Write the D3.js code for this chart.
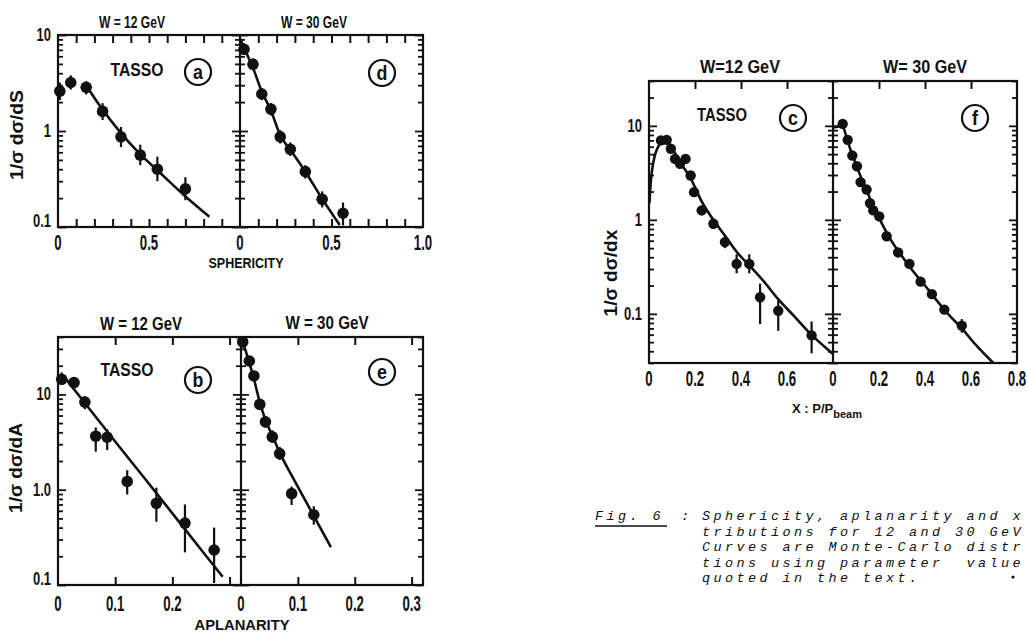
<!DOCTYPE html>
<html><head><meta charset="utf-8">
<script src="https://cdn.jsdelivr.net/npm/d3@7"></script>
<style>
body{margin:0;background:#fff;}
svg{display:block;background:#fff;}
.cond{font-family:"Liberation Sans",Arial,"DejaVu Sans",sans-serif;font-weight:bold;fill:#111;}
.cap{font-family:"Liberation Mono","Courier New","DejaVu Sans Mono",monospace;font-style:italic;font-size:13.5px;letter-spacing:3.4px;fill:#111;}
</style></head><body>
<svg id="chart" width="1027" height="634"></svg>
<script>
// ---------------- DATA ----------------
// (a) sphericity, W = 12 GeV
const sph12X  = [0.01, 0.07, 0.155, 0.245, 0.346, 0.452, 0.546, 0.70];
const sph12Y  = [2.6, 3.2, 2.85, 1.6, 0.87, 0.56, 0.40, 0.25];
const sph12Lo = [2.1, 2.7, 2.4, 1.3, 0.68, 0.44, 0.30, 0.19];
const sph12Hi = [3.2, 3.8, 3.3, 1.95, 1.1, 0.72, 0.54, 0.33];
const sph12CurveX = [0.154, 0.231, 0.346, 0.447, 0.546, 0.702, 0.832];
const sph12CurveY = [3.0, 1.82, 0.95, 0.585, 0.39, 0.207, 0.128];
// (d) sphericity, W = 30 GeV
const sph30X  = [0.022, 0.071, 0.119, 0.169, 0.22, 0.275, 0.357, 0.449, 0.563];
const sph30Y  = [7.1, 4.95, 2.43, 1.69, 0.87, 0.645, 0.377, 0.194, 0.139];
const sph30Lo = [6.2, 4.3, 2.1, 1.45, 0.74, 0.55, 0.32, 0.16, 0.104];
const sph30Hi = [8.2, 5.7, 2.8, 1.95, 1.02, 0.76, 0.44, 0.235, 0.18];
const sph30CurveX = [0, 0.03, 0.07, 0.12, 0.17, 0.22, 0.28, 0.36, 0.45, 0.545];
const sph30CurveY = [9.2, 6.8, 4.6, 2.55, 1.62, 0.9, 0.62, 0.37, 0.195, 0.105];
// (b) aplanarity, W = 12 GeV
const apl12X  = [0.0064, 0.028, 0.047, 0.066, 0.086, 0.121, 0.172, 0.222, 0.273];
const apl12Y  = [14.4, 13.3, 8.3, 3.64, 3.55, 1.22, 0.72, 0.446, 0.233];
const apl12Lo = [13, 12.2, 7, 2.5, 2.6, 0.89, 0.46, 0.22, 0.105];
const apl12Hi = [17, 14.5, 9.6, 4.5, 4.3, 1.6, 1.05, 0.7, 0.40];
const apl12CurveX = [0.012, 0.05, 0.1, 0.15, 0.2, 0.25, 0.288];
const apl12CurveY = [15, 7.7, 3.2, 1.35, 0.565, 0.236, 0.122];
// (e) aplanarity, W = 30 GeV
const apl30X  = [0.003, 0.0146, 0.0227, 0.033, 0.043, 0.055, 0.068, 0.089, 0.128];
const apl30Y  = [35.5, 22.4, 15.6, 7.85, 5.15, 3.58, 2.39, 0.91, 0.546];
const apl30Lo = [31, 20, 14, 6.9, 4.5, 3.1, 2.05, 0.69, 0.43];
const apl30Hi = [40, 25, 17.5, 9.0, 5.9, 4.2, 2.8, 1.08, 0.67];
const apl30CurveX = [0.001, 0.0146, 0.0227, 0.033, 0.043, 0.055, 0.068, 0.09, 0.12, 0.158];
const apl30CurveY = [39, 21.5, 14.5, 8.3, 5.4, 3.7, 2.45, 1.38, 0.65, 0.249];
// (c) x = p/p_beam, W = 12 GeV
const xp12X  = [0.052, 0.077, 0.095, 0.113, 0.135, 0.159, 0.181, 0.196, 0.229, 0.28, 0.33, 0.381, 0.436, 0.483, 0.562, 0.707];
const xp12Y  = [7.0, 7.1, 5.7, 4.45, 3.95, 4.45, 2.96, 1.97, 1.26, 0.91, 0.58, 0.34, 0.34, 0.15, 0.108, 0.059];
const xp12Lo = [6.4, 6.5, 5.2, 4.0, 3.6, 4.0, 2.7, 1.8, 1.12, 0.8, 0.5, 0.27, 0.27, 0.078, 0.066, 0.038];
const xp12Hi = [7.6, 7.7, 6.2, 4.9, 4.35, 4.9, 3.25, 2.15, 1.42, 1.03, 0.67, 0.43, 0.43, 0.21, 0.14, 0.083];
const xp12CurveX = [0.002, 0.008, 0.015, 0.025, 0.04, 0.055, 0.07, 0.1, 0.135, 0.18, 0.23, 0.28, 0.33, 0.38, 0.44, 0.5, 0.56, 0.63, 0.7, 0.8];
const xp12CurveY = [1.5, 2.6, 3.6, 4.8, 6.0, 6.9, 7.2, 5.8, 4.1, 2.8, 1.55, 1.0, 0.68, 0.46, 0.32, 0.22, 0.145, 0.095, 0.062, 0.0375];
// (f) x = p/p_beam, W = 30 GeV
const xp30X  = [0.042, 0.064, 0.084, 0.104, 0.12, 0.146, 0.161, 0.175, 0.201, 0.233, 0.283, 0.332, 0.381, 0.43, 0.484, 0.56];
const xp30Y  = [10.5, 7.1, 4.83, 3.72, 2.52, 2.1, 1.5, 1.26, 1.09, 0.67, 0.45, 0.34, 0.22, 0.162, 0.111, 0.075];
const xp30Lo = [9.6, 6.5, 4.4, 3.4, 2.3, 1.9, 1.37, 1.15, 0.99, 0.61, 0.41, 0.31, 0.2, 0.147, 0.1, 0.063];
const xp30Hi = [11.5, 7.8, 5.3, 4.1, 2.75, 2.3, 1.65, 1.38, 1.2, 0.74, 0.5, 0.37, 0.24, 0.178, 0.122, 0.088];
const xp30CurveX = [0.002, 0.04, 0.06, 0.08, 0.1, 0.12, 0.15, 0.175, 0.2, 0.25, 0.3, 0.35, 0.4, 0.45, 0.5, 0.56, 0.62, 0.697];
const xp30CurveY = [9.6, 10.0, 7.4, 5.2, 3.9, 2.9, 1.95, 1.4, 1.05, 0.62, 0.41, 0.28, 0.2, 0.14, 0.1, 0.07, 0.047, 0.03];

// tick labels
const sphXTicks12 = [0, 0.5],      sphXLabels12 = ["0", "0.5"];
const sphXTicks30 = [0, 0.5, 1.0], sphXLabels30 = ["0", "0.5", "1.0"];
const aplXTicks12 = [0, 0.1, 0.2], aplXLabels12 = ["0", "0.1", "0.2"];
const aplXTicks30 = [0, 0.1, 0.2, 0.3], aplXLabels30 = ["0", "0.1", "0.2", "0.3"];
const xpXTicks12 = [0, 0.2, 0.4, 0.6], xpXLabels12 = ["0", "0.2", "0.4", "0.6"];
const xpXTicks30 = [0, 0.2, 0.4, 0.6, 0.8], xpXLabels30 = ["0", "0.2", "0.4", "0.6", "0.8"];
const sphYTicks = [0.1, 1, 10], sphYLabels = ["0.1", "1", "10"];
const aplYTicks = [0.1, 1, 10], aplYLabels = ["0.1", "1.0", "10"];
const xpYTicks = [0.1, 1, 10],  xpYLabels = ["0.1", "1", "10"];
const sphMinorX = [0.1,0.2,0.3,0.4,0.5,0.6,0.7,0.8,0.9];
const aplMinorX = [0.1,0.2,0.3];
const xpMinorX = [0.2,0.4,0.6];

const captionLines = [
  "Sphericity, aplanarity and x",
  "tributions for 12 and 30 GeV",
  "Curves are Monte-Carlo distr",
  "tions using parameter  value",
  "quoted in the text."
];

// ---------------- DRAWING ----------------
const svg = d3.select("#chart");
const INK = "#111";

function txt(g, x, y, s, o) {
  let tr = `translate(${x},${y})`;
  if (o.rot) tr += ` rotate(${o.rot})`;
  if (o.sx) tr += ` scale(${o.sx},1)`;
  const t = g.append("text").attr("class", "cond").attr("transform", tr)
    .attr("text-anchor", o.anchor || "middle").attr("font-size", o.size).text(s);
  if (o.len) t.attr("textLength", o.len).attr("lengthAdjust", "spacingAndGlyphs");
  return t;
}

function makePanel(p) {
  p.x = d3.scaleLinear().domain(p.xd).range([p.x0, p.x1]);
  p.y = d3.scaleLog().domain(p.yd).range([p.y1, p.y0]);
  return p;
}

function yTicks(p, xpos, side) {
  const all = p.y.ticks();
  const isMajor = v => Math.abs(Math.log10(v) - Math.round(Math.log10(v))) < 1e-6;
  const major = all.filter(isMajor), minor = all.filter(v => !isMajor(v));
  const draw = (gen) => {
    [[minor, 5], [major, 8]].forEach(([vals, len]) => {
      const g = svg.append("g").attr("transform", `translate(${xpos},0)`)
        .call(gen(p.y).tickValues(vals).tickSize(len).tickFormat(""));
      g.select(".domain").remove();
      g.selectAll("line").attr("stroke", INK).attr("stroke-width", 1.8);
    });
  };
  if (side === "right" || side === "both") draw(d3.axisRight);
  if (side === "left" || side === "both") draw(d3.axisLeft);
}

function xTicks(p, vals, bottom) {
  const gt = svg.append("g").attr("transform", `translate(0,${p.y0})`)
    .call(d3.axisBottom(p.x).tickValues(vals).tickSize(8).tickFormat(""));
  gt.select(".domain").remove();
  gt.selectAll("line").attr("stroke", INK).attr("stroke-width", 2);
  if (bottom) {
    const gb = svg.append("g").attr("transform", `translate(0,${p.y1})`)
      .call(d3.axisTop(p.x).tickValues(vals).tickSize(8).tickFormat(""));
    gb.select(".domain").remove();
    gb.selectAll("line").attr("stroke", INK).attr("stroke-width", 2);
  }
}

function frame(pl, pr) {
  svg.append("rect").attr("x", pl.x0).attr("y", pl.y0)
    .attr("width", pr.x1 - pl.x0).attr("height", pl.y1 - pl.y0)
    .attr("fill", "none").attr("stroke", INK).attr("stroke-width", 2.2);
  svg.append("line").attr("x1", pl.x1).attr("x2", pl.x1).attr("y1", pl.y0).attr("y2", pl.y1)
    .attr("stroke", INK).attr("stroke-width", 2.2);
}

function data(p, X, Y, Lo, Hi, CX, CY, r) {
  const g = svg.append("g");
  const line = d3.line().x(d => p.x(d[0])).y(d => p.y(d[1])).curve(d3.curveMonotoneX);
  g.append("path").attr("d", line(CX.map((v, i) => [v, CY[i]])))
    .attr("fill", "none").attr("stroke", INK).attr("stroke-width", 2.6);
  X.forEach((v, i) => {
    g.append("line").attr("x1", p.x(v)).attr("x2", p.x(v))
      .attr("y1", p.y(Lo[i])).attr("y2", p.y(Hi[i]))
      .attr("stroke", INK).attr("stroke-width", 2.2);
    g.append("circle").attr("cx", p.x(v)).attr("cy", p.y(Y[i])).attr("r", r).attr("fill", INK);
  });
}

function circled(x, y, ch) {
  svg.append("circle").attr("cx", x).attr("cy", y).attr("r", 13)
    .attr("fill", "none").attr("stroke", INK).attr("stroke-width", 2.2);
  txt(svg, x, y + 7, ch, {size: 21, sx: 0.85});
}

function xLabels(p, vals, labels, base) {
  vals.forEach((v, i) => txt(svg, p.x(v), base, labels[i], {size: 22, sx: 0.6}));
}
function yLabels(p, vals, labels) {
  vals.forEach((v, i) => {
    let yy = p.y(v) + 6;
    if (yy > p.y1) yy = p.y1;
    txt(svg, p.x0 - 7, yy, labels[i], {size: 18, sx: 0.72, anchor: "end"});
  });
}

// panels
const pa = makePanel({x0: 58, x1: 240, y0: 35, y1: 227, xd: [0, 1], yd: [0.1, 10]});
const pd = makePanel({x0: 240, x1: 423, y0: 35, y1: 227, xd: [0, 1], yd: [0.1, 10]});
const pb = makePanel({x0: 58, x1: 241, y0: 337, y1: 585, xd: [0, 0.32], yd: [0.1, 40]});
const pe = makePanel({x0: 241, x1: 423, y0: 337, y1: 585, xd: [0, 0.32], yd: [0.1, 40]});
const pc = makePanel({x0: 649, x1: 833, y0: 81, y1: 363, xd: [0, 0.8], yd: [0.03, 30]});
const pf = makePanel({x0: 833, x1: 1017, y0: 81, y1: 363, xd: [0, 0.8], yd: [0.03, 30]});

// frames & ticks
[[pa, pd], [pb, pe], [pc, pf]].forEach(([l, r]) => {
  frame(l, r);
  yTicks(l, l.x0, "right");
  yTicks(l, l.x1, "both");
  yTicks(r, r.x1, "left");
});
xTicks(pa, sphMinorX, true); xTicks(pd, sphMinorX, true);
xTicks(pb, aplMinorX, true); xTicks(pe, aplMinorX, true);
xTicks(pc, xpMinorX, false); xTicks(pf, xpMinorX, false);

// data
data(pa, sph12X, sph12Y, sph12Lo, sph12Hi, sph12CurveX, sph12CurveY, 5.8);
data(pd, sph30X, sph30Y, sph30Lo, sph30Hi, sph30CurveX, sph30CurveY, 5.8);
data(pb, apl12X, apl12Y, apl12Lo, apl12Hi, apl12CurveX, apl12CurveY, 5.8);
data(pe, apl30X, apl30Y, apl30Lo, apl30Hi, apl30CurveX, apl30CurveY, 5.8);
data(pc, xp12X, xp12Y, xp12Lo, xp12Hi, xp12CurveX, xp12CurveY, 5.2);
data(pf, xp30X, xp30Y, xp30Lo, xp30Hi, xp30CurveX, xp30CurveY, 5.2);

// tick labels
xLabels(pa, sphXTicks12, sphXLabels12, 250);
xLabels(pd, sphXTicks30, sphXLabels30, 250);
xLabels(pb, aplXTicks12, aplXLabels12, 611);
xLabels(pe, aplXTicks30, aplXLabels30, 611);
xLabels(pc, xpXTicks12, xpXLabels12, 386);
xLabels(pf, xpXTicks30, xpXLabels30, 386);
yLabels(pa, sphYTicks, sphYLabels);
yLabels(pb, aplYTicks, aplYLabels);
yLabels(pc, xpYTicks, xpYLabels);

// titles
txt(svg, 132, 28, "W = 12 GeV", {size: 17, len: 66});
txt(svg, 314, 28, "W = 30 GeV", {size: 17, len: 66});
txt(svg, 141, 330, "W = 12  GeV", {size: 19, len: 82});
txt(svg, 327, 329, "W = 30 GeV", {size: 19, len: 83});
txt(svg, 740, 73, "W=12  GeV", {size: 18, len: 80});
txt(svg, 925, 73, "W= 30 GeV", {size: 18, len: 84});

// TASSO + circled letters
txt(svg, 137, 76, "TASSO", {size: 19, len: 53});
txt(svg, 127, 376, "TASSO", {size: 19, len: 53});
txt(svg, 722, 121, "TASSO", {size: 19, len: 50});
circled(198, 72, "a"); circled(382, 73, "d");
circled(198, 380, "b"); circled(382, 372, "e");
circled(793, 118, "c"); circled(975, 118, "f");

// axis titles
txt(svg, 23, 135, "1/σ  dσ/dS", {size: 18, len: 90, rot: -90});
txt(svg, 22, 468, "1/σ  dσ/dA", {size: 18, len: 90, rot: -90});
txt(svg, 617, 273, "1/σ  dσ/dx", {size: 18, len: 87, rot: -90});
txt(svg, 246, 268, "SPHERICITY", {size: 15, len: 75});
txt(svg, 242, 630, "APLANARITY", {size: 15, len: 95});
const xl = svg.append("text").attr("class", "cond").attr("x", 792).attr("y", 413).attr("font-size", 13);
xl.append("tspan").text("X : P/P");
xl.append("tspan").attr("dy", 5).attr("font-size", 11).text("beam");

// caption
const cap = svg.append("g").attr("class", "cap");
cap.append("text").attr("x", 595).attr("y", 520).text("Fig. 6");
cap.append("text").attr("x", 681).attr("y", 520).text(":");
svg.append("line").attr("x1", 595).attr("x2", 667).attr("y1", 526).attr("y2", 526)
  .attr("stroke", INK).attr("stroke-width", 1.5);
captionLines.forEach((s, i) => {
  cap.append("text").attr("x", 702).attr("y", 520 + i * 15.5).attr("xml:space", "preserve").text(s);
});
svg.append("circle").attr("cx", 1013).attr("cy", 577).attr("r", 1.6).attr("fill", INK);
</script>
</body></html>
